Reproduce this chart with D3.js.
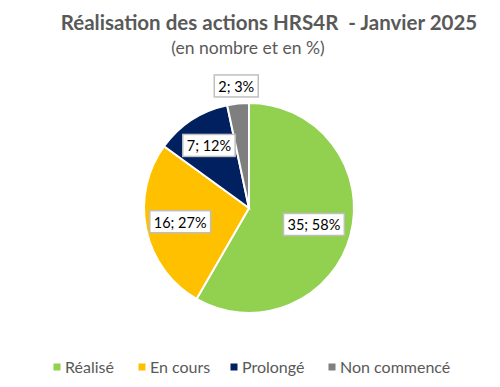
<!DOCTYPE html>
<html>
<head>
<meta charset="utf-8">
<script src="https://cdn.jsdelivr.net/npm/d3@7"></script>
<style>
  body { margin: 0; background: #fff; }
  svg { font-family: Lato, "Open Sans", sans-serif; }
  text { white-space: pre; }
</style>
</head>
<body>
<div id="chart"></div>
<script>
// Data
var categories = ["Réalisé", "En cours", "Prolongé", "Non commencé"];
var counts = [35, 16, 7, 2];
var percents = [58, 27, 12, 3];
var colours = ["#92d050", "#ffc000", "#002060", "#7f7f7f"];

var W = 500, H = 387;
var svg = d3.select("#chart").append("svg")
  .attr("width", W).attr("height", H);

// Titles
svg.append("text")
  .attr("x", 269).attr("y", 30)
  .attr("text-anchor", "middle")
  .attr("font-size", 20.5).attr("font-weight", "bold")
  .attr("fill", "#595959")
  .text("Réalisation des actions HRS4R  - Janvier 2025");
svg.append("text")
  .attr("x", 248).attr("y", 54)
  .attr("text-anchor", "middle")
  .attr("font-size", 17.5)
  .attr("fill", "#595959")
  .text("(en nombre et en %)");

// Pie
var data = categories.map(function(c, i) {
  return { cat: c, count: counts[i], pct: percents[i], colour: colours[i] };
});
var cx = 249, cy = 208, r = 105;
var pie = d3.pie().sort(null).value(function(d) { return d.count; });
var arc = d3.arc().innerRadius(0).outerRadius(r);
var arcs = pie(data);

var g = svg.append("g").attr("transform", "translate(" + cx + "," + cy + ")");
g.selectAll("path")
  .data(arcs)
  .enter().append("path")
  .attr("d", arc)
  .attr("fill", function(d) { return d.data.colour; })
  .attr("stroke", "#fff")
  .attr("stroke-width", 2);

// Label radius per slice (fraction of r); small slice goes outside
var labelRadius = [0.64, 0.67, 0.70, 1.16];
var labels = g.selectAll("g.lbl")
  .data(arcs)
  .enter().append("g")
  .attr("class", "lbl")
  .attr("transform", function(d, i) {
    var a = (d.startAngle + d.endAngle) / 2;
    var rr = r * labelRadius[i];
    return "translate(" + (Math.sin(a) * rr) + "," + (-Math.cos(a) * rr) + ")";
  });

labels.each(function(d) {
  var el = d3.select(this);
  var t = el.append("text")
    .attr("text-anchor", "middle")
    .attr("dy", "0.35em")
    .attr("font-size", 14.5)
    .attr("fill", "#000")
    .text(d.data.count + "; " + d.data.pct + "%");
  var bb = t.node().getBBox();
  el.insert("rect", "text")
    .attr("x", bb.x - 4).attr("y", bb.y - 3)
    .attr("width", bb.width + 8).attr("height", bb.height + 5)
    .attr("fill", "#fff")
    .attr("stroke", "#bfbfbf")
    .attr("stroke-width", 1.5);
});

// Legend
var legendX = [57, 142, 234, 332];
var legend = svg.selectAll("g.leg")
  .data(data)
  .enter().append("g")
  .attr("class", "leg")
  .attr("transform", function(d, i) { return "translate(" + legendX[i] + ",367)"; });
legend.append("rect")
  .attr("x", -3.5).attr("y", -3.5)
  .attr("width", 7).attr("height", 7)
  .attr("fill", function(d) { return d.colour; });
legend.append("text")
  .attr("x", 8).attr("dy", "0.35em")
  .attr("font-size", 16)
  .attr("fill", "#595959")
  .text(function(d) { return d.cat; });
</script>
</body>
</html>
